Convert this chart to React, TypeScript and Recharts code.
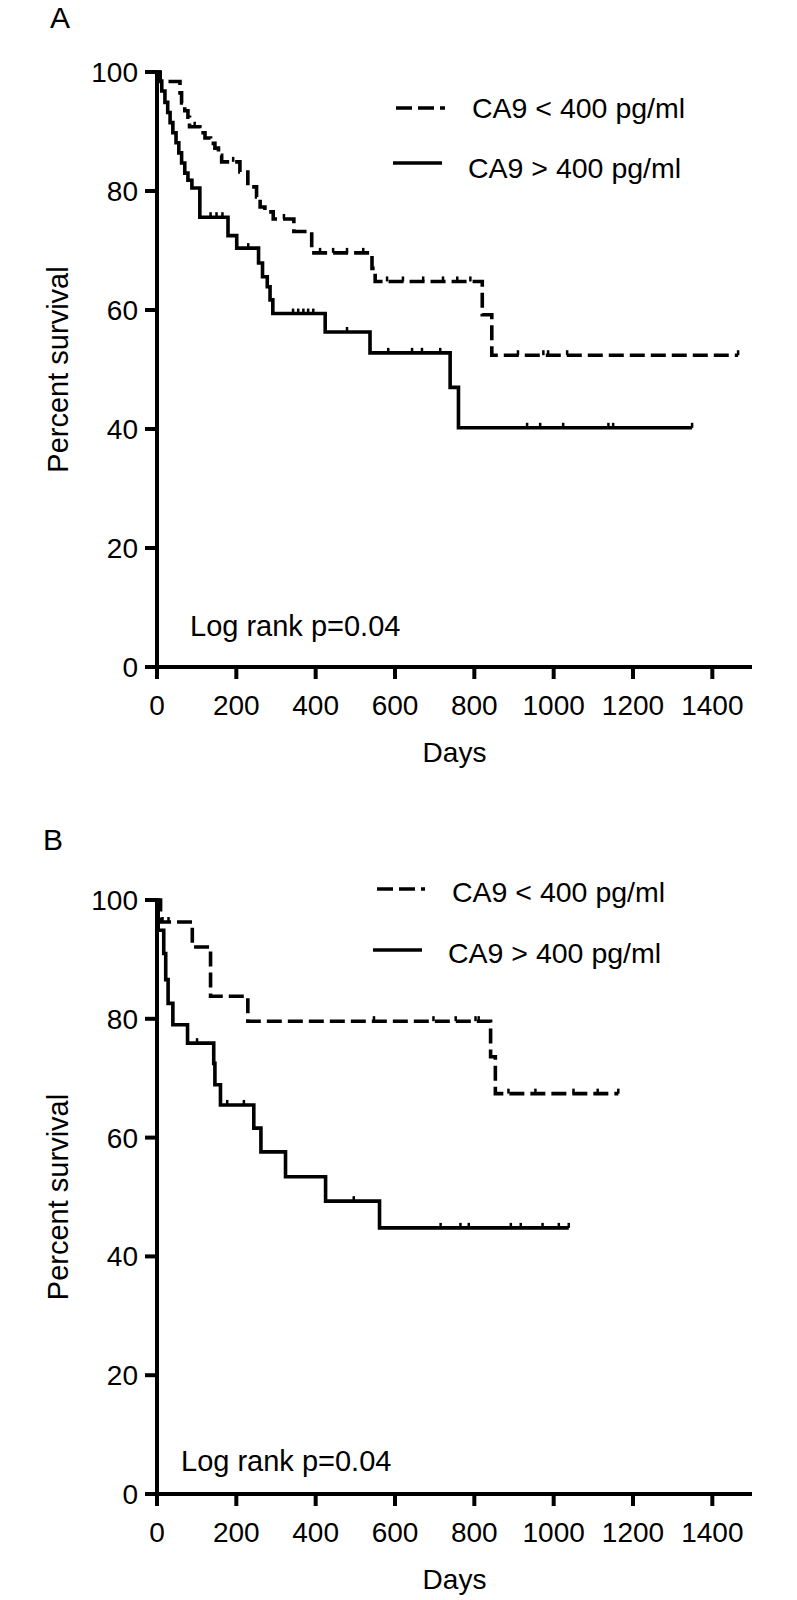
import React from 'react';
import { LineChart, Line, XAxis, YAxis, Legend } from 'recharts';

const xTicks = [0, 200, 400, 600, 800, 1000, 1200, 1400];
const yTicks = [0, 20, 40, 60, 80, 100];
const lowName = 'CA9 < 400 pg/ml';
const highName = 'CA9 > 400 pg/ml';
const pText = 'Log rank p=0.04';

// panel A: [day, percent] after each drop, and censored [day, percent]
const aLowSteps = [
  [0, 100], [8, 98.4], [58, 96.5], [62, 94.8], [70, 93.5], [78, 92.4], [82, 90.8],
  [108, 89.8], [121, 88.9], [135, 88.0], [146, 87.2], [155, 86.0], [163, 84.9],
  [209, 83.2], [229, 80.7], [251, 79.0], [260, 77.3], [272, 76.5], [293, 75.3],
  [345, 73.2], [390, 69.6], [542, 67.0], [550, 64.8], [820, 59.2], [844, 52.4],
];
const aLowCensored = [
  [95, 90.8], [192, 84.9], [320, 75.3], [411, 69.6], [444, 69.6], [479, 69.6], [520, 69.6],
  [580, 64.8], [620, 64.8], [671, 64.8], [721, 64.8], [757, 64.8], [790, 64.8],
  [910, 52.4], [974, 52.4], [986, 52.4], [1034, 52.4], [1465, 52.4],
];
const aHighSteps = [
  [0, 100], [5, 98.5], [12, 96.8], [20, 94.9], [27, 93.2], [33, 91.5], [40, 89.8],
  [48, 88.1], [55, 86.4], [62, 84.7], [70, 83.0], [78, 81.8], [88, 80.5], [108, 75.6],
  [179, 72.5], [201, 70.4], [256, 67.9], [266, 65.6], [278, 63.9], [285, 61.7],
  [292, 59.4], [424, 56.3], [537, 52.8], [739, 47.0], [760, 40.2],
];
const aHighCensored = [
  [135, 75.6], [150, 75.6], [165, 75.6], [230, 70.4], [343, 59.4], [356, 59.4], [369, 59.4],
  [381, 59.4], [394, 59.4], [479, 56.3], [583, 52.8], [643, 52.8], [668, 52.8], [714, 52.8],
  [933, 40.2], [966, 40.2], [1024, 40.2], [1138, 40.2], [1150, 40.2], [1349, 40.2],
];

// panel B
const bLowSteps = [
  [0, 100], [9, 96.3], [89, 92.1], [135, 83.8], [229, 79.6], [841, 73.6], [853, 67.4],
];
const bLowCensored = [
  [14, 96.3], [29, 96.3], [547, 79.6], [697, 79.6], [753, 79.6], [803, 79.6], [811, 79.6],
  [886, 67.4], [954, 67.4], [1050, 67.4], [1111, 67.4], [1163, 67.4],
];
const bHighSteps = [
  [0, 100], [3, 94.9], [17, 91.0], [22, 86.6], [28, 82.6], [40, 79.0], [77, 75.9],
  [143, 72.5], [146, 68.9], [160, 65.5], [244, 61.6], [262, 57.6], [324, 53.4],
  [425, 49.3], [561, 44.8],
];
const bHighCensored = [
  [101, 75.9], [177, 65.5], [219, 65.5], [496, 49.3], [715, 44.8], [765, 44.8], [786, 44.8],
  [892, 44.8], [917, 44.8], [972, 44.8], [1013, 44.8], [1038, 44.8],
];

const FONT = '"Liberation Sans", Arial, Helvetica, sans-serif';
const DASH = '15 6';
const LW = 3.6;

function km(steps: number[][], censored: number[][]) {
  const pts = [
    ...steps.map(([day, pct]) => ({ day, pct, c: false })),
    ...censored.map(([day, pct]) => ({ day, pct, c: true })),
  ];
  return pts.sort((a, b) => a.day - b.day);
}

const censorTick = (props: any) => {
  const { cx, cy, payload, index } = props;
  if (!payload || !payload.c) return <g key={'n' + index} />;
  return <line key={'c' + index} x1={cx} x2={cx} y1={cy - 5} y2={cy} stroke="#000" strokeWidth={2.5} />;
};

type Row = { x1: number; x2: number; y: number; tx: number; ty: number };

const makeLegend = (rows: Record<string, Row>) => (props: any) => {
  const items = props.payload || [];
  return (
    <svg width={340} height={120} style={{ overflow: 'visible', display: 'block' }}>
      {items.map((it: any) => {
        const r = rows[it.value];
        if (!r) return null;
        return (
          <g key={it.value}>
            <line x1={r.x1} x2={r.x2} y1={r.y} y2={r.y} stroke="#000" strokeWidth={LW}
              strokeDasharray={it.value === lowName ? '16 6' : undefined} />
            <text x={r.tx} y={r.ty} fontSize={28.5} fill="#000" fontFamily={FONT}>{it.value}</text>
          </g>
        );
      })}
    </svg>
  );
};

type PanelProps = {
  top: number;
  letter: string;
  letterPos: { left: number; top: number };
  pPos: { left: number; top: number };
  low: any[];
  high: any[];
  marginTop: number;
  axisH: number;
  daysOffset: number;
  legendPos: { left: number; top: number };
  rows: Record<string, Row>;
};

function Panel(p: PanelProps) {
  return (
    <div style={{ position: 'absolute', left: 0, top: p.top, width: 797, height: 800 }}>
      <LineChart width={797} height={800} margin={{ top: p.marginTop, right: 45, bottom: 0, left: 0 }}>
        <XAxis
          type="number" dataKey="day" domain={[0, 1500]} ticks={xTicks} allowDataOverflow
          height={p.axisH} tickSize={12} tickMargin={16}
          axisLine={{ stroke: '#000', strokeWidth: 4 }}
          tickLine={{ stroke: '#000', strokeWidth: 4 }}
          tick={{ fill: '#000', fontSize: 28 }}
          label={{ value: 'Days', position: 'insideBottom', offset: p.daysOffset, fill: '#000', fontSize: 28 }}
        />
        <YAxis
          type="number" domain={[0, 100]} ticks={yTicks} width={157}
          tickSize={12} tickMargin={7}
          axisLine={{ stroke: '#000', strokeWidth: 4 }}
          tickLine={{ stroke: '#000', strokeWidth: 4 }}
          tick={{ fill: '#000', fontSize: 28 }}
          label={{ value: 'Percent survival', angle: -90, position: 'insideLeft', offset: 58, fill: '#000', fontSize: 29, style: { textAnchor: 'middle' } }}
        />
        <Legend
          layout="vertical" align="center" verticalAlign="middle"
          wrapperStyle={{ position: 'absolute', left: p.legendPos.left, top: p.legendPos.top, width: 340, height: 120 }}
          content={makeLegend(p.rows)}
        />
        <Line data={p.low} name={lowName} dataKey="pct" type="stepAfter" stroke="#000" strokeWidth={LW}
          strokeDasharray={DASH} dot={censorTick} activeDot={false} isAnimationActive={false} />
        <Line data={p.high} name={highName} dataKey="pct" type="stepAfter" stroke="#000" strokeWidth={LW}
          dot={censorTick} activeDot={false} isAnimationActive={false} />
      </LineChart>
      <div style={{ position: 'absolute', left: p.letterPos.left, top: p.letterPos.top, fontSize: 30, lineHeight: 1 }}>{p.letter}</div>
      <div style={{ position: 'absolute', left: p.pPos.left, top: p.pPos.top, fontSize: 29, lineHeight: 1, whiteSpace: 'nowrap' }}>{pText}</div>
    </div>
  );
}

export default function App() {
  return (
    <div style={{ position: 'absolute', left: 0, top: 0, width: 797, height: 1600, background: '#fff', fontFamily: FONT, color: '#000' }}>
      <Panel
        top={0} letter="A" letterPos={{ left: 50, top: 3 }} pPos={{ left: 190, top: 612 }}
        low={km(aLowSteps, aLowCensored)} high={km(aHighSteps, aHighCensored)}
        marginTop={72} axisH={133} daysOffset={38}
        legendPos={{ left: 390, top: 80 }}
        rows={{
          [lowName]: { x1: 6, x2: 55, y: 28, tx: 82, ty: 38 },
          [highName]: { x1: 3, x2: 52, y: 83, tx: 78, ty: 98 },
        }}
      />
      <Panel
        top={800} letter="B" letterPos={{ left: 43, top: 25 }} pPos={{ left: 181, top: 647 }}
        low={km(bLowSteps, bLowCensored)} high={km(bHighSteps, bHighCensored)}
        marginTop={100} axisH={106} daysOffset={11}
        legendPos={{ left: 370, top: 80 }}
        rows={{
          [lowName]: { x1: 7, x2: 55, y: 9, tx: 82, ty: 22 },
          [highName]: { x1: 3, x2: 52, y: 70, tx: 78, ty: 83 },
        }}
      />
    </div>
  );
}
